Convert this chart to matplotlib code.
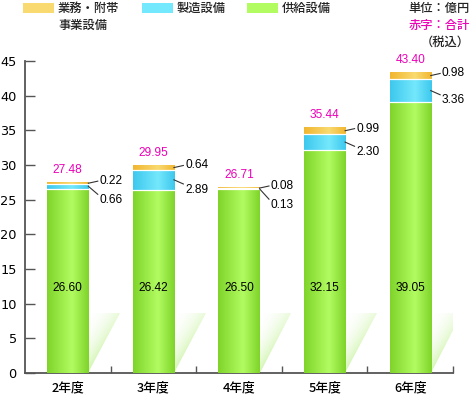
import matplotlib
matplotlib.use('Agg')
import matplotlib.pyplot as plt
import numpy as np
from matplotlib.colors import LinearSegmentedColormap, to_rgb
from matplotlib.patches import Polygon, Rectangle

categories = ['2年度', '3年度', '4年度', '5年度', '6年度']
supply = [26.60, 26.42, 26.50, 32.15, 39.05]          # 供給設備
manufacturing = [0.66, 2.89, 0.13, 2.30, 3.36]        # 製造設備
business = [0.22, 0.64, 0.08, 0.99, 0.98]             # 業務・附帯事業設備
totals = [27.48, 29.95, 26.71, 35.44, 43.40]          # 合計
yticks = [0, 5, 10, 15, 20, 25, 30, 35, 40, 45]
legend_labels = ['業務・附帯\n事業設備', '製造設備', '供給設備']
unit_lines = ['単位：億円', '赤字：合計', '（税込）']

CJK = ['Noto Sans CJK JP', 'DejaVu Sans']
NUM = ['Liberation Sans Narrow', 'Liberation Sans', 'DejaVu Sans']

GREEN = ('#7fd42a', '#b2fc62')
BLUE = ('#3ec8ee', '#74e8fc')
ORANGE = ('#f1b630', '#f9da70')
MAGENTA = '#ec00b8'
AXC = '#555555'

W, H = 474, 394
fig = plt.figure(figsize=(W / 100, H / 100), dpi=100)
ax = fig.add_axes([25 / W, 21 / H, 428 / W, 312 / H])
ax.set_xlim(-0.5, 4.5)
ax.set_ylim(0, 45)


def grad_rect(x0, x1, y0, y1, cols, z=3):
    cmap = LinearSegmentedColormap.from_list(
        'g', [(0, cols[0]), (0.6, cols[1]), (1, cols[0])])
    arr = np.linspace(0, 1, 64)[None, :]
    ax.imshow(arr, cmap=cmap, extent=(x0, x1, y0, y1), aspect='auto',
              interpolation='bilinear', zorder=z)


bw = 0.48
sh_w, sh_h = 0.37, 8.65
for i in range(len(categories)):
    xl, xr = i - bw / 2, i + bw / 2
    g, m, b = supply[i], manufacturing[i], business[i]
    grad_rect(xl, xr, 0, g, GREEN)
    grad_rect(xl, xr, g, g + m, BLUE)
    grad_rect(xl, xr, g + m, g + m + b, ORANGE)
    ax.plot([xl, xr], [g, g], color='white', lw=0.9, zorder=4)
    ax.plot([xl, xr], [g + m, g + m], color='white', lw=0.9, zorder=4)

    # shadow
    tri = Polygon([(xr, 0), (xr, sh_h), (xr + sh_w, sh_h)], closed=True,
                  facecolor='none', edgecolor='none', transform=ax.transData)
    ax.add_patch(tri)
    ny, nx = 80, 40
    v = np.linspace(1, 0, ny)[:, None]
    u = np.linspace(0, 1, nx)[None, :]
    d = np.clip(v - u, 0, 1)
    alpha = 0.6 * (1 - d) ** 2 * (1 - 0.5 * v)
    rgba = np.zeros((ny, nx, 4))
    rgba[..., :3] = to_rgb('#b6ef80')
    rgba[..., 3] = alpha
    im = ax.imshow(rgba, extent=(xr, xr + sh_w, 0, sh_h), aspect='auto',
                   interpolation='bilinear', zorder=1)
    im.set_clip_path(tri)

    top = g + m + b
    # labels
    ax.text(i, 12.25, f'{g:.2f}', ha='center', va='center', fontsize=8.6,
            family=NUM, color='black', zorder=5)
    ax.text(i, top + 1.8, f'{totals[i]:.2f}', ha='center', va='center',
            fontsize=8.6, family=NUM, color=MAGENTA, zorder=5)
    o_mid = top - b / 2
    o_lab = o_mid + 0.3
    m_mid = g + m / 2
    m_lab = min(m_mid - 1.4, o_lab - 2.7)
    ax.plot([xr, xr + 0.11], [o_mid, o_lab], color='#333333', lw=0.8, zorder=5)
    ax.text(xr + 0.13, o_lab, f'{b:.2f}', ha='left', va='center',
            fontsize=8.6, family=NUM, color='black', zorder=5)
    ax.plot([xr, xr + 0.11], [m_mid, m_lab + 0.8], color='#333333', lw=0.8,
            zorder=5)
    ax.text(xr + 0.13, m_lab, f'{m:.2f}', ha='left', va='center',
            fontsize=8.6, family=NUM, color='black', zorder=5)

# axes styling
for s in ['top', 'right']:
    ax.spines[s].set_visible(False)
for s in ['left', 'bottom']:
    ax.spines[s].set_color(AXC)
    ax.spines[s].set_linewidth(1.3)
ax.set_yticks(yticks)
ax.set_yticklabels([str(t) for t in yticks], family='DejaVu Sans',
                   fontsize=9.3)
ax.tick_params(axis='y', direction='in', length=7.5, width=1, color=AXC,
               pad=6)
ax.set_xticks([0.5, 1.5, 2.5, 3.5, 4.5])
ax.set_xticklabels([])
ax.tick_params(axis='x', which='major', direction='in', length=5, width=1,
               color=AXC)
ax.set_xticks(range(len(categories)), minor=True)
ax.set_xticklabels(categories, minor=True, family=CJK, fontsize=9.2,
                   fontweight='medium')
ax.tick_params(axis='x', which='minor', length=0, pad=6)

# legend (manual)
leg_x = [23, 142, 247]
leg_cols = [ORANGE, BLUE, GREEN]
for x, cols, lab in zip(leg_x, leg_cols, legend_labels):
    fig.patches.append(Rectangle((x / W, 1 - 13 / H), 31 / W, 10 / H,
                                 transform=fig.transFigure,
                                 facecolor=cols[1], edgecolor='none'))
    for k, line in enumerate(lab.split('\n')):
        fig.text((x + 35) / W, 1 - (8 + 17 * k) / H, line, ha='left',
                 va='center', family=CJK, fontsize=8.8, fontweight='medium',
                 color='#222222')

unit_cols = ['#222222', MAGENTA, '#222222']
for k, (line, c) in enumerate(zip(unit_lines, unit_cols)):
    fig.text(470 / W, 1 - (8 + 17 * k) / H, line, ha='right', va='center',
             family=CJK, fontsize=8.8, fontweight='medium', color=c)

fig.savefig('out.png', dpi=100)
